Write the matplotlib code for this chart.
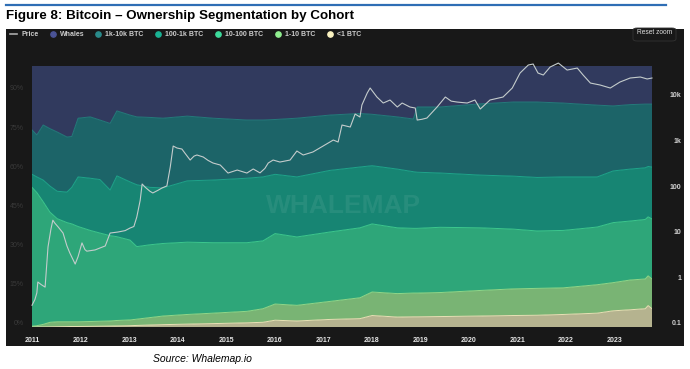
import numpy as np
import matplotlib.pyplot as plt
from matplotlib.lines import Line2D
from matplotlib.patches import Rectangle, FancyBboxPatch
from matplotlib.transforms import ScaledTranslation

plt.rcParams['font.family'] = ['Liberation Sans', 'DejaVu Sans']

# Dane (udzial kohort w %, lata dziesietne)
years = [2011.00, 2011.10, 2011.23, 2011.37, 2011.52, 2011.72, 2011.82, 2011.95,
         2012.20, 2012.40, 2012.61, 2012.75, 2013.02, 2013.16, 2013.43, 2013.70,
         2014.20, 2014.73, 2015.43, 2015.76, 2016.01, 2016.46, 2017.14, 2017.76,
         2018.01, 2018.53, 2018.86, 2018.94, 2019.41, 2020.24, 2020.92, 2021.41,
         2021.95, 2022.65, 2022.98, 2023.33, 2023.64, 2023.70, 2023.78]

lt1_btc = [0, 0, 0, 0.05, 0.1, 0.15, 0.2, 0.2, 0.25, 0.3, 0.35, 0.4, 0.5, 0.6, 0.75, 0.9,
           1.1, 1.3, 1.6, 1.8, 2.6, 2.3, 2.9, 3.2, 4.4, 3.8, 3.9, 3.9, 4.0, 4.2, 4.4, 4.5,
           4.8, 5.3, 6.2, 6.6, 7.0, 8.2, 7.0]
btc_1_10 = [0.3, 0.5, 1.0, 1.75, 1.9, 1.85, 1.8, 1.8, 1.85, 1.9, 1.95, 2.1, 2.2, 2.4, 2.85, 3.3,
            3.7, 4.0, 4.4, 5.2, 6.2, 6.0, 6.9, 8.0, 9.0, 9.0, 9.1, 9.1, 9.2, 9.8, 10.2, 10.3,
            10.2, 10.9, 10.8, 11.4, 11.4, 11.4, 11.4]
btc_10_100 = [53.2, 51.0, 47.0, 42.2, 39.5, 38.0, 37.5, 36.5, 34.9, 33.8, 32.7, 32.1, 30.6, 27.8,
              27.9, 27.8, 27.7, 27.0, 26.3, 26.0, 27.0, 26.2, 26.6, 26.8, 26.1, 25.2, 24.8, 24.8,
              25.0, 24.0, 22.9, 22.0, 22.0, 22.1, 23.0, 22.6, 22.8, 22.6, 23.0]
btc_100_1k = [5.0, 6.0, 8.3, 10.0, 10.5, 11.7, 14.0, 19.0, 20.0, 20.5, 17.5, 23.3, 22.3, 23.7,
              22.0, 21.3, 23.5, 24.0, 24.7, 24.5, 22.7, 23.0, 23.6, 23.3, 22.3, 22.5, 21.7, 21.5,
              20.8, 20.2, 20.3, 20.5, 20.5, 19.2, 19.8, 19.9, 19.8, 19.3, 19.9]
btc_1k_10k = [17.0, 16.1, 21.1, 22.0, 22.7, 21.1, 19.5, 22.5, 23.5, 22.8, 25.5, 24.9, 25.6, 26.0,
              26.8, 26.7, 24.8, 23.7, 22.3, 21.8, 21.0, 22.5, 21.2, 20.5, 19.7, 20.0, 20.2, 25.0,
              25.3, 27.3, 28.4, 28.9, 28.3, 27.5, 24.9, 24.7, 24.4, 23.9, 24.1]
whales = [24.5, 26.4, 22.6, 24.0, 25.3, 27.2, 27.0, 20.0, 19.5, 20.7, 22.0, 17.2, 18.8, 19.5,
          19.7, 20.0, 19.2, 20.0, 20.7, 20.7, 20.5, 20.0, 18.8, 18.2, 18.5, 19.5, 20.3, 15.7,
          15.7, 14.5, 13.8, 13.8, 14.2, 15.0, 15.3, 14.8, 14.6, 14.6, 14.6]

# Cena BTC (USD, skala log)
price_years = [2011.00, 2011.06, 2011.10, 2011.12, 2011.19, 2011.27, 2011.33, 2011.39, 2011.43,
               2011.47, 2011.54, 2011.64, 2011.72, 2011.78, 2011.89, 2011.95, 2012.03, 2012.09,
               2012.13, 2012.30, 2012.40, 2012.51, 2012.61, 2012.77, 2012.92, 2013.02, 2013.10,
               2013.16, 2013.23, 2013.27, 2013.33, 2013.43, 2013.49, 2013.60, 2013.68, 2013.78,
               2013.85, 2013.91, 2013.99, 2014.09, 2014.15, 2014.26, 2014.34, 2014.40, 2014.53,
               2014.63, 2014.73, 2014.88, 2015.04, 2015.23, 2015.43, 2015.56, 2015.70, 2015.80,
               2015.87, 2015.97, 2016.11, 2016.32, 2016.46, 2016.59, 2016.79, 2017.00, 2017.21,
               2017.31, 2017.39, 2017.56, 2017.66, 2017.76, 2017.80, 2017.91, 2017.97, 2018.11,
               2018.24, 2018.38, 2018.53, 2018.63, 2018.79, 2018.90, 2018.94, 2019.04, 2019.14,
               2019.35, 2019.52, 2019.64, 2019.76, 2019.97, 2020.13, 2020.24, 2020.44, 2020.71,
               2020.90, 2021.06, 2021.23, 2021.33, 2021.43, 2021.54, 2021.68, 2021.85, 2022.03,
               2022.24, 2022.36, 2022.51, 2022.71, 2022.92, 2023.12, 2023.33, 2023.54, 2023.68,
               2023.78]
price = [0.30, 0.40, 0.56, 0.97, 0.85, 0.75, 5.7, 14, 22, 19, 15.6, 11.5, 6, 4.2, 2.4, 3.5, 7.0,
         5, 4.6, 4.9, 5.4, 6, 11.5, 12.1, 13, 14.8, 16, 25.8, 60, 137, 117, 95, 87, 100, 112, 124,
         323, 931, 842, 800, 655, 459, 560, 592, 535, 450, 395, 357, 238, 277, 238, 292, 240, 300,
         395, 459, 415, 459, 724, 592, 689, 931, 1260, 1140, 2690, 2430, 4690, 4030, 7380, 13550,
         17430, 11070, 8170, 9510, 6680, 8170, 6680, 6350, 3460, 3600, 3830, 6680, 11070, 9000,
         8590, 8170, 9510, 6040, 9510, 11070, 17430, 37150, 55700, 58600, 37150, 33600, 50300,
         61500, 43200, 47800, 33600, 22400, 20300, 17430, 23600, 28900, 30400, 27500, 28900]

labels = ['<1 BTC', '1-10 BTC', '10-100 BTC', '100-1k BTC', '1k-10k BTC', 'Whales']
fill_colors = ['#b5b38f', '#79b474', '#2ea679', '#178573', '#1c6468', '#313a5e']
edge_colors = ['#e9e3b6', '#8fd98a', '#3cc98f', '#1fa58c', '#257a7c', '#3f4a7e']
legend_colors = ['#fbf3c1', '#90ee8f', '#3ddb9c', '#1ab394', '#2a8b8b', '#4a5396']
bg = '#181818'

fig = plt.figure(figsize=(6.9, 3.69), dpi=100)
W, H = 690.0, 369.0

def fx(px):
    return px / W

def fy(py):
    return 1 - py / H

# ciemny panel wykresu + niebieska linia u gory
fig.add_artist(Rectangle((fx(6), fy(346)), fx(684) - fx(6), fy(29) - fy(346),
                         transform=fig.transFigure, facecolor=bg, edgecolor='none', zorder=0))
fig.add_artist(Line2D([fx(6), fx(666)], [fy(5), fy(5)], transform=fig.transFigure,
                      color='#2f6eb5', lw=1.6))
fig.text(fx(6), fy(16), 'Figure 8: Bitcoin \u2013 Ownership Segmentation by Cohort',
         fontsize=9.6, fontweight='bold', va='center', ha='left', color='black')
fig.text(fx(202), fy(359), 'Source: Whalemap.io', fontsize=7.5, style='italic',
         ha='center', va='center', color='black')

ax = fig.add_axes([fx(32), fy(327), fx(652) - fx(32), fy(66) - fy(327)])
ax.set_facecolor(bg)
ax.stackplot(years, lt1_btc, btc_1_10, btc_10_100, btc_100_1k, btc_1k_10k, whales,
             colors=fill_colors, linewidth=0)
tops = np.cumsum([lt1_btc, btc_1_10, btc_10_100, btc_100_1k, btc_1k_10k], axis=0)
for top, c in zip(tops, edge_colors):
    ax.plot(years, top, color=c, lw=0.7)
ax.set_xlim(2011.0, 2023.78)
ax.set_ylim(0, 100)
for s in ax.spines.values():
    s.set_visible(False)
ax.set_xticks(range(2011, 2024))
ax.set_xticklabels([str(y) for y in range(2011, 2024)], fontsize=5, fontweight='bold',
                   color='#e6e6e6')
ax.set_yticks(range(0, 91, 15))
ax.set_yticklabels([f'{v}%' for v in range(0, 91, 15)], fontsize=5, color='#3a3a3a')
ax.tick_params(axis='x', length=0, pad=7)
ax.tick_params(axis='y', length=0, pad=6)
up = ScaledTranslation(0, 3 / 72, fig.dpi_scale_trans)
for lab in ax.get_yticklabels():
    lab.set_transform(lab.get_transform() + up)

ax.text(0.502, 0.465, 'WHALEMAP', transform=ax.transAxes, fontsize=19, fontweight='bold',
        color='white', alpha=0.07, ha='center', va='center', zorder=5)

# os ceny
ax2 = ax.twinx()
ax2.set_yscale('log')
ax2.set_ylim(0.1, 53000)
ax2.plot(price_years, price, color='#c4cccc', lw=0.8, clip_on=False)
for s in ax2.spines.values():
    s.set_visible(False)
ax2.set_yticks([0.1, 1, 10, 100, 1000, 10000])
ax2.set_yticklabels(['0.1', '1', '10', '100', '1k', '10k'], fontsize=5, fontweight='bold',
                    color='#d0d0d0')
ax2.minorticks_off()
ax2.tick_params(axis='y', length=0, pad=21)
for lab in ax2.get_yticklabels():
    lab.set_horizontalalignment('right')
    lab.set_transform(lab.get_transform() + up)

# legenda
ly = fy(34)
fig.add_artist(Line2D([fx(10), fx(17)], [ly, ly], transform=fig.transFigure,
                      color='#aaaaaa', lw=1.2))
fig.text(fx(22), ly, 'Price', fontsize=5, fontweight='bold', color='#cccccc', va='center')
leg_x = [53, 98, 158, 218, 278, 330]
for px, lab, c in zip(leg_x, labels[::-1], legend_colors[::-1]):
    fig.add_artist(Line2D([fx(px)], [ly], transform=fig.transFigure, marker='o',
                          markersize=3.8, color=c, lw=0))
    fig.text(fx(px + 7), ly, lab, fontsize=5, fontweight='bold', color='#cccccc', va='center')

# przycisk "Reset zoom"
fig.add_artist(FancyBboxPatch((fx(633), fy(41)), fx(676) - fx(633), fy(28) - fy(41),
                              boxstyle='round,pad=0,rounding_size=0.006',
                              transform=fig.transFigure, facecolor=bg,
                              edgecolor='#333333', lw=0.6))
fig.text(fx(654.5), fy(33), 'Reset zoom', fontsize=4.8, color='#dddddd',
         ha='center', va='center')

plt.savefig('out.png', dpi=100)
